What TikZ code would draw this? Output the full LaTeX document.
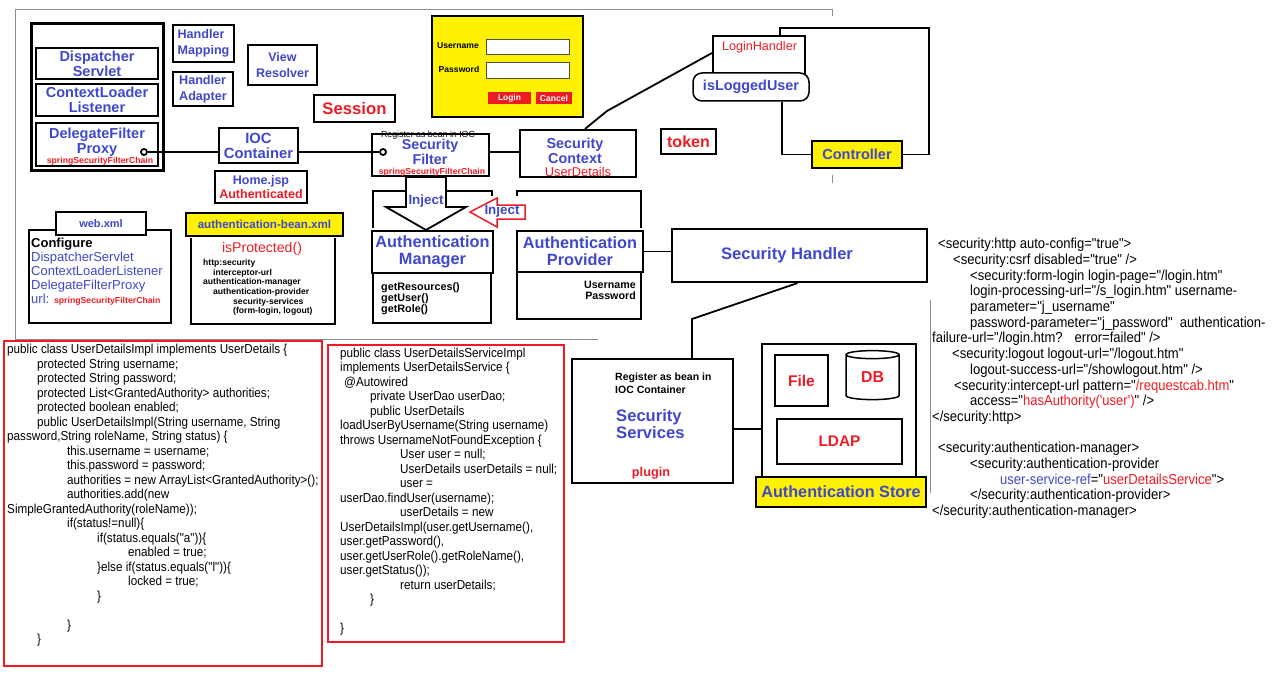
\documentclass[tikz,border=0pt]{standalone}
\usepackage{fontspec}
\setmainfont{Liberation Sans}
\newfontfamily\codefont[FakeStretch=0.9]{Liberation Sans}
\usetikzlibrary{shapes.geometric}
\definecolor{pblue}{RGB}{63,72,204}
\definecolor{pred}{RGB}{237,28,36}
\definecolor{pyel}{RGB}{255,242,0}
\definecolor{fgray}{RGB}{140,140,140}
\begin{document}
\begin{tikzpicture}[x=1pt,y=-1pt]
	\tikzset{
		bx/.style={draw,line width=2.2pt,inner sep=0pt,align=center,text=pblue},
		sz/.style 2 args={minimum width=#1,minimum height=#2},
		f/.style 2 args={font=\bfseries\fontsize{#1}{#2}\selectfont},
		fr/.style 2 args={font=\fontsize{#1}{#2}\selectfont},
		tx/.style={inner sep=0pt,align=left},
		ln/.style={line width=1.8pt},
		cd/.style={inner sep=0pt,align=left,anchor=north west,font=\codefont\fontsize{13}{14.5}\selectfont}
	}
	\useasboundingbox (0,0) rectangle (1280,698);
	\draw[fgray,line width=1pt] (15,340) -- (15,10) -- (832,10) -- (832,16);
	\draw[fgray,line width=1pt] (15,339) -- (598,339);
	\draw[fgray,line width=1pt] (832,175) -- (832,183);
	\draw[fgray,line width=1pt] (930,300) -- (930,493);
	\node[bx,line width=3pt,sz={132}{147}] (WEB) at (97,97.5) {};
	\node[bx,sz={122}{31},f={14.5}{15}] (DS) at (97,63.5) {Dispatcher\\Servlet};
	\node[bx,sz={122}{32},f={14.5}{15}] (CL) at (97,100) {ContextLoader\\Listener};
	\node[bx,sz={122}{43}] (DFP) at (97,144.5) {};
	\node[tx,f={14.5}{15},align=center,text=pblue] (DFPt) at (97,142.5) {DelegateFilter\\Proxy};
	\node[tx,f={8.7}{9},text=pred,anchor=base] (DFPs) at (100,163.5) {springSecurityFilterChain};
	\node[bx,sz={61}{37},f={12.6}{16},align=left] (HM) at (203.5,43.5) {Handler\\Mapping};
	\node[bx,sz={60}{34},f={12.6}{16},align=left] (HA) at (203,89) {Handler\\Adapter};
	\node[bx,sz={69}{40},f={12.5}{16}] (VR) at (282.5,65) {View\\Resolver};
	\node[bx,sz={81}{27},f={16.7}{17},text=pred] (SES) at (354.5,108.5) {Session};
	\node[bx,sz={79}{35},f={14.8}{15}] (IOC) at (258.5,145.5) {IOC\\Container};
	\node[bx,sz={92}{32},f={12.5}{14},text=pred] (HOME) at (261,187) {\textcolor{pblue}{Home.jsp}\\Authenticated};
	\node[bx,sz={151}{101},fill=pyel] (LF) at (507.5,66.5) {};
	\node[tx,f={8.6}{9}] (UN) at (458,46) {Username};
	\node[tx,f={8.6}{9}] (PW) at (459,69) {Password};
	\node[draw=black!70,line width=0.8pt,fill=white,sz={83}{15}] (UF) at (527.5,46.5) {};
	\node[draw=black!70,line width=0.8pt,fill=white,sz={83}{16}] (PF) at (527.5,70) {};
	\node[fill=pred,sz={43}{12},inner sep=0pt,text=white,f={8.4}{9}] (LB) at (509.5,98) {Login};
	\node[fill=pred,sz={36}{12},inner sep=0pt,text=white,f={8.6}{9}] (CB) at (554,98) {Cancel};
	\draw[line width=1.8pt,fill=white] (406,177) -- (406,207) -- (386,207) -- (426,230) -- (466,207) -- (446,207) -- (446,177) -- cycle;
	\node[tx,f={13.4}{14},text=pblue] (INJ1) at (426,201) {Inject};
	\draw[pred,line width=1.5pt,fill=white] (470,212) -- (497,198) -- (497,205) -- (525,205) -- (525,219) -- (497,219) -- (497,227) -- cycle;
	\node[tx,f={13.4}{14},text=pblue] (INJ2) at (502,211.5) {Inject};
	\node[bx,sz={117}{42}] (SF) at (430.5,155) {};
	\node[tx,fr={8.8}{9}] (SFr) at (428,135.5) {Register as bean in IOC};
	\node[tx,f={14.3}{15},align=center,text=pblue] (SFt) at (430,151.5) {Security\\Filter};
	\node[tx,f={8.7}{9},text=pred] (SFs) at (432,172) {springSecurityFilterChain};
	\node[bx,sz={116}{47}] (SC) at (578,153.5) {};
	\node[tx,f={14.4}{15},align=center,text=pblue] (SCt) at (575,151) {Security\\Context};
	\node[tx,fr={12.8}{13},text=pred,anchor=base] (SCu) at (578,176) {UserDetails};
	\node[bx,line width=2pt,sz={92}{44}] (LH) at (759,58) {};
	\node[tx,fr={12.6}{13},text=pred,anchor=base] (LHt) at (759.5,51) {LoginHandler};
	\node[draw,line width=1.5pt,fill=white,rounded corners=9pt,sz={116}{28},inner sep=0pt,f={14.4}{15},text=pblue] (ILU) at (751,87) {isLoggedUser};
	\node[bx,fill=pyel,sz={90}{27},f={14.5}{15}] (CTRL) at (857,154.5) {Controller};
	\node[bx,sz={55}{25},f={16}{16},text=pred] (TOK) at (688.5,141.5) {token};
	\node[bx,sz={90}{23},f={11}{11}] (WX) at (101,223.5) {web.xml};
	\draw[ln] (56,230) -- (29,230) -- (29,323) -- (171,323) -- (171,230) -- (146,230);
	\node[tx,anchor=north west,fr={13}{14},text=pblue] (CFG) at (31,237.5) {\textcolor{black}{\bfseries Configure}\\DispatcherServlet\\ContextLoaderListener\\DelegateFilterProxy\\url: {\color{pred}\bfseries\fontsize{8.7}{9}\selectfont springSecurityFilterChain}};
	\node[bx,fill=pyel,sz={157}{23},f={11.6}{12}] (ABX) at (264.5,224.5) {authentication-bean.xml};
	\draw[ln] (191,238) -- (191,324) -- (335,324) -- (335,238);
	\node[tx,fr={14.1}{15},text=pred,anchor=base] (ISP) at (262,252) {isProtected()};
	\node[tx,anchor=north west,f={8.6}{9.7}] (ABT) at (203,259) {http:security\\\hspace*{10pt}interceptor-url\\authentication-manager\\\hspace*{10pt}authentication-provider\\\hspace*{30pt}security-services\\\hspace*{30pt}(form-login, logout)};
	\draw[ln] (373,228) -- (373,191) -- (406,191);
	\draw[ln] (446,191) -- (492,191) -- (492,196);
	\draw[ln] (517,196) -- (517,191) -- (641,191) -- (641,228);
	\node[bx,sz={121}{42},f={16.3}{17}] (AM) at (432.5,252) {Authentication\\Manager};
	\node[bx,sz={126}{41},f={16.3}{17}] (AP) at (580,251.5) {Authentication\\Provider};
	\draw[ln] (373,274) -- (373,323) -- (491,323) -- (491,274);
	\draw[ln] (517,273) -- (517,319) -- (641,319) -- (641,273);
	\node[tx,anchor=north west,f={10.8}{11}] (AMt) at (381,282) {getResources()\\getUser()\\getRole()};
	\node[tx,anchor=north east,align=right,f={10.7}{11}] (APt) at (636,281) {Username\\Password};
	\node[bx,sz={255}{53}] (SH) at (799.5,255.5) {};
	\node[tx,f={16.6}{17},text=pblue] (SHt) at (787,255) {Security Handler};
	\node[bx,sz={161}{124}] (SS) at (652.5,421) {};
	\node[tx,anchor=north west,f={10.5}{13}] (SSr) at (615,373) {Register as bean in\\IOC Container};
	\node[tx,anchor=north west,f={16.6}{17},text=pblue] (SSt) at (616,409) {Security\\Services};
	\node[tx,anchor=base,f={12.7}{13},text=pred] (SSp) at (651,476.5) {plugin};
	\node[bx,sz={154}{146}] (AS) at (839,417) {};
	\node[draw,line width=1.5pt,sz={53}{51},inner sep=0pt,text=pred,f={15.5}{16}] (FILE) at (801.5,380.5) {File};
	\node[draw,line width=1.5pt,cylinder,shape border rotate=90,aspect=0.35,minimum width=53,minimum height=49,inner sep=0pt,text=pred,f={15.9}{16}] (DB) at (872.5,377.5) {DB};
	\node[draw,line width=1.5pt,sz={125}{45},inner sep=0pt,text=pred,f={15.4}{16}] (LDAP) at (839.5,441.5) {LDAP};
	\node[bx,fill=pyel,sz={170}{30},f={16.2}{17}] (ASL) at (841,492) {Authentication Store};
	\node[draw=pred,line width=2pt,sz={318}{325}] (UDI) at (163,503.5) {};
	\node[cd] (UDIt) at (7,344) {public class UserDetailsImpl implements UserDetails \{\\
\hspace*{30pt}protected String username;\\
\hspace*{30pt}protected String password;\\
\hspace*{30pt}protected List<GrantedAuthority> authorities;\\
\hspace*{30pt}protected boolean enabled;\\
\hspace*{30pt}public UserDetailsImpl(String username, String\\
password,String roleName, String status) \{\\
\hspace*{60pt}this.username = username;\\
\hspace*{60pt}this.password = password;\\
\hspace*{60pt}authorities = new ArrayList<GrantedAuthority>();\\
\hspace*{60pt}authorities.add(new\\
SimpleGrantedAuthority(roleName));\\
\hspace*{60pt}if(status!=null)\{\\
\hspace*{90pt}if(status.equals("a"))\{\\
\hspace*{121pt}enabled = true;\\
\hspace*{90pt}\}else if(status.equals("l"))\{\\
\hspace*{121pt}locked = true;\\
\hspace*{90pt}\}\\[14.5pt]
\hspace*{60pt}\}\\
\hspace*{30pt}\}};
	\node[draw=pred,line width=2pt,sz={236}{297}] (UDS) at (446,493.5) {};
	\node[cd] (UDSt) at (340,347.5) {public class UserDetailsServiceImpl\\
implements UserDetailsService \{\\
\hspace*{4pt}@Autowired\\
\hspace*{30pt}private UserDao userDao;\\
\hspace*{30pt}public UserDetails\\
loadUserByUsername(String username)\\
throws UsernameNotFoundException \{\\
\hspace*{60pt}User user = null;\\
\hspace*{60pt}UserDetails userDetails = null;\\
\hspace*{60pt}user =\\
userDao.findUser(username);\\
\hspace*{60pt}userDetails = new\\
UserDetailsImpl(user.getUsername(),\\
user.getPassword(),\\
user.getUserRole().getRoleName(),\\
user.getStatus());\\
\hspace*{60pt}return userDetails;\\
\hspace*{30pt}\}\\[14.5pt]
\}};
	\node[cd,font=\codefont\fontsize{14.5}{15.7}\selectfont] (XML) at (932,238) {\hspace*{6pt}<security:http auto-config="true">\\
\hspace*{21pt}<security:csrf disabled="true" />\\
\hspace*{38pt}<security:form-login login-page="/login.htm"\\
\hspace*{38pt}login-processing-url="/s\_login.htm" username-\\
\hspace*{38pt}parameter="j\_username"\\
\hspace*{38pt}password-parameter="j\_password"\ \ authentication-\\
failure-url="/login.htm?\hspace{12pt}error=failed" />\\
\hspace*{20pt}<security:logout logout-url="/logout.htm"\\
\hspace*{38pt}logout-success-url="/showlogout.htm" />\\
\hspace*{22pt}<security:intercept-url pattern="\textcolor{pred}{/requestcab.htm}"\\
\hspace*{38pt}access="\textcolor{pred}{hasAuthority('user')}" />\\
</security:http>\\[15.7pt]
\hspace*{6pt}<security:authentication-manager>\\
\hspace*{38pt}<security:authentication-provider\\
\hspace*{68pt}\textcolor{pblue}{user-service-ref}="\textcolor{pred}{userDetailsService}">\\
\hspace*{38pt}</security:authentication-provider>\\
</security:authentication-manager>};
	\node[draw,circle,line width=1.8pt,inner sep=0pt,minimum size=6,fill=white] (c1) at (144,152) {};
	\node[draw,circle,line width=1.8pt,inner sep=0pt,minimum size=6,fill=white] (c2) at (383,152) {};
	\coordinate (K) at (692,319);
	\draw[ln] (c1) -- (c1 -| IOC.west);
	\draw[ln] (IOC.east |- c2) -- (c2);
	\draw[ln] (c2 -| SF.east) -- (c2 -| SC.west);
	\draw[ln] ([xshift=7pt]SC.north) -- (607,111) -- ([yshift=5pt]LH.west);
	\draw[ln] ([xshift=21pt]LH.north) |- (929,28) |- (CTRL.east);
	\draw[ln] ([xshift=31pt]ILU.south) |- (CTRL.west);
	\draw[ln] (AP.east) -- (AP.east -| SH.west);
	\draw[ln] ([xshift=-2pt]SH.south) -- (K) -- (K |- SS.north);
	\draw[ln] ([yshift=-8pt]SS.east) -- ([yshift=-8pt]SS.east -| AS.west);
\end{tikzpicture}
\end{document}
